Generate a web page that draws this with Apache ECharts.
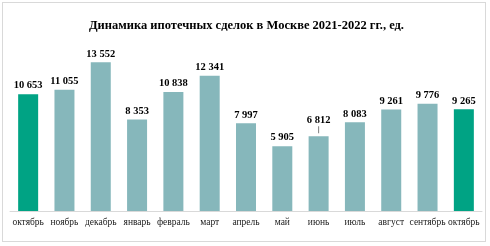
<!DOCTYPE html>
<html><head><meta charset="utf-8">
<script src="https://cdn.jsdelivr.net/npm/echarts@6/dist/echarts.min.js"></script>
<style>
html,body{margin:0;padding:0;background:#fff;}
#frame{position:absolute;left:2px;top:2px;width:484px;height:240px;border:1px solid #d9d9d9;box-sizing:border-box;}
#c{position:absolute;left:0;top:0;width:490px;height:246px;}
</style></head>
<body><div id="frame"></div><div id="c"></div>
<script>
const titleText = 'Динамика ипотечных сделок в Москве 2021-2022 гг., ед.';
const categories = ['октябрь','ноябрь','декабрь','январь','февраль','март','апрель','май','июнь','июль','август','сентябрь','октябрь'];
const values = [10653, 11055, 13552, 8353, 10838, 12341, 7997, 5905, 6812, 8083, 9261, 9776, 9265];
const highlight = [true, false, false, false, false, false, false, false, false, false, false, false, true];
const leaderIndex = 8;

const GREEN = '#00A384', TEAL = '#86B7BB';
const fmt = v => String(v).replace(/\B(?=(\d{3})+(?!\d))/g, ' ');

const chart = echarts.init(document.getElementById('c'));
chart.setOption({
  animation: false,
  title: {text: titleText, left: 84, top: 14,
    textStyle: {fontFamily: 'Liberation Serif', fontWeight: 'bold', fontSize: 12.5, color: '#000'}},
  grid: {left: 10, right: 8, top: 35.5, bottom: 35},
  xAxis: {type: 'category', data: categories,
    axisLine: {lineStyle: {color: '#d9d9d9', width: 1}}, axisTick: {show: false},
    axisLabel: {fontFamily: 'Liberation Serif', fontSize: 9.5, color: '#222', margin: 6, interval: 0}},
  yAxis: {type: 'value', min: 0, max: 16000, show: false, splitLine: {show: false}},
  series: [{
    type: 'bar', barWidth: 20,
    data: values.map((v, i) => ({value: v,
      itemStyle: {color: highlight[i] ? GREEN : TEAL}})),
    label: {show: true, position: 'top', distance: 3,
      formatter: p => p.dataIndex === leaderIndex ? '{v|' + fmt(p.value) + '}\n{l|}' : fmt(p.value),
      fontFamily: 'Liberation Serif', fontWeight: 'bold', fontSize: 10.5, color: '#000',
      rich: {
        v: {fontFamily: 'Liberation Serif', fontWeight: 'bold', fontSize: 10.5, color: '#000', lineHeight: 12},
        l: {width: 1, height: 7, backgroundColor: '#7f7f7f', align: 'center'}
      }}
  }]
});
</script></body></html>
